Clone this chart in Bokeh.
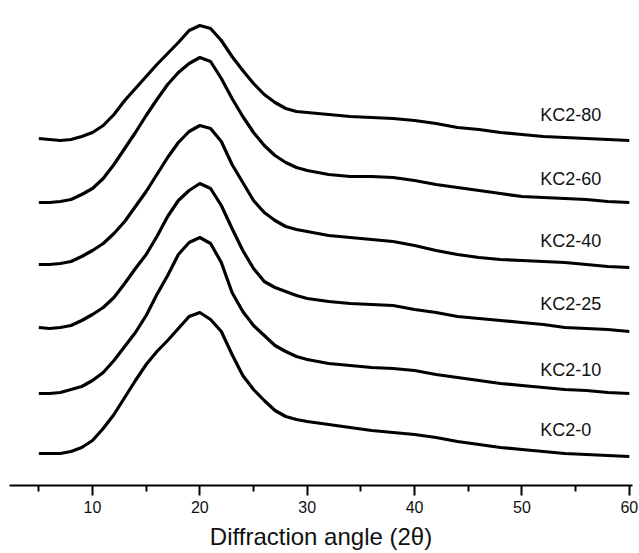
from bokeh.plotting import figure
from bokeh.models import Range1d, FixedTicker
from bokeh.core.properties import value
from bokeh.embed import file_html
from bokeh.resources import INLINE

# 2-theta sample positions (degrees)
two_theta = [5, 6, 7, 8, 9, 10, 11, 12, 13, 14, 15, 16, 17, 18, 19, 20, 21, 22, 23, 24,
             25, 26, 27, 28, 29, 30, 32, 34, 36, 38, 40, 42, 44, 46, 48, 50, 52, 54, 56, 58, 60]

# intensities (a.u.) above each pattern's own baseline
kc2_0 = [0, 0, 0, 2, 6, 13, 25, 39, 56, 73, 89, 102, 113, 125, 137, 141, 134, 122, 99, 78,
         64, 53, 43, 37, 34, 32, 29, 26, 23, 21, 19, 16, 12, 9, 6, 4, 2, 0, -1, -2, -3]
kc2_10 = [0, 0, 1, 4, 7, 13, 21, 33, 47, 61, 78, 99, 118, 139, 151, 156, 150, 131, 101, 82,
          68, 58, 48, 42, 37, 34, 30, 28, 26, 25, 23, 19, 16, 13, 10, 8, 6, 4, 3, 1, 0]
kc2_25 = [0, -1, 0, 2, 7, 13, 20, 30, 44, 59, 73, 91, 111, 127, 137, 144, 139, 122, 99, 77,
          59, 46, 40, 36, 32, 29, 26, 24, 23, 22, 18, 15, 11, 9, 7, 5, 3, 0, -1, -2, -4]
kc2_40 = [0, 0, 1, 3, 8, 14, 21, 31, 43, 58, 73, 90, 107, 122, 133, 139, 136, 123, 100, 82,
          64, 52, 44, 38, 35, 33, 29, 27, 25, 23, 19, 14, 10, 7, 5, 4, 3, 2, 0, -2, -3]
kc2_60 = [0, 0, 1, 3, 8, 14, 24, 38, 54, 70, 87, 103, 118, 130, 139, 145, 141, 124, 104, 86,
          70, 57, 47, 40, 35, 32, 28, 26, 26, 25, 22, 18, 15, 12, 9, 6, 5, 4, 3, 1, 0]
kc2_80 = [0, -1, -2, -1, 2, 6, 13, 24, 38, 50, 62, 74, 85, 96, 108, 113, 110, 98, 82, 68,
          55, 44, 36, 30, 27, 26, 24, 22, 21, 20, 18, 15, 11, 9, 6, 4, 2, 1, 0, -1, -2]

series = [kc2_0, kc2_10, kc2_25, kc2_40, kc2_60, kc2_80]
names = ["KC2-0", "KC2-10", "KC2-25", "KC2-40", "KC2-60", "KC2-80"]
offsets = [32, 92, 158, 221, 283, 347]   # vertical stacking offsets (a.u.)

x_ticks = [10, 20, 30, 40, 50, 60]
x_minor = [5, 15, 25, 35, 45, 55]

p = figure(width=639, height=553, output_backend="svg", toolbar_location=None,
           x_range=Range1d(2.27, 60.3), y_range=Range1d(0, 477),
           y_axis_location=None, min_border_left=9, min_border_right=7,
           min_border_top=8, min_border_bottom=68)
p.outline_line_color = None
p.xgrid.visible = False
p.ygrid.visible = False
p.background_fill_color = "white"
p.border_fill_color = "white"

for ys, off, name in zip(series, offsets, names):
    p.line(two_theta, [v + off for v in ys], line_color="black", line_width=3.2)
    p.text(x=[51.7], y=[off + 24], text=[name], text_font=value("Liberation Sans"),
           text_font_size="18px", text_color="#111111", text_baseline="middle",
           text_align="left")

ax = p.xaxis[0]
ax.ticker = FixedTicker(ticks=x_ticks, minor_ticks=x_minor)
ax.axis_line_width = 2
ax.axis_line_color = "black"
ax.major_tick_line_width = 2
ax.minor_tick_line_width = 2
ax.major_tick_out = 10
ax.major_tick_in = 0
ax.minor_tick_out = 6
ax.minor_tick_in = 0
ax.major_label_text_font = "Liberation Sans"
ax.major_label_text_font_size = "16px"
ax.major_label_text_color = "#111111"
ax.major_label_standoff = 5
ax.axis_label = "Diffraction angle (2θ)"
ax.axis_label_text_font = "Liberation Sans"
ax.axis_label_text_font_size = "24px"
ax.axis_label_text_font_style = "normal"
ax.axis_label_text_color = "#111111"
ax.axis_label_standoff = 7

open("out.html", "w").write(file_html(p, INLINE))
